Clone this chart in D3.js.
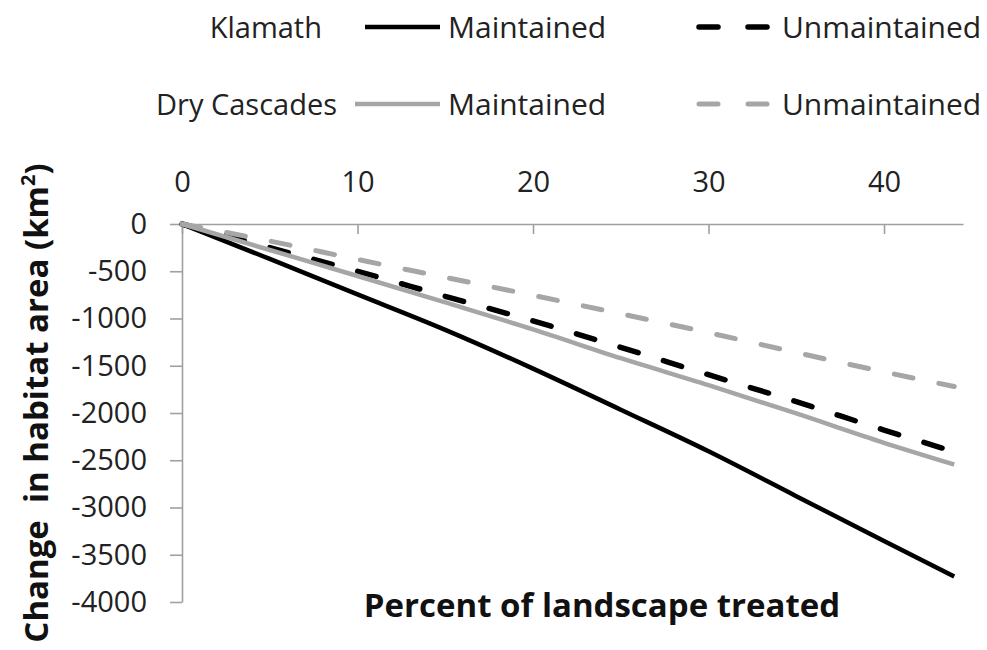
<!DOCTYPE html>
<html><head><meta charset="utf-8">
<script src="https://cdn.jsdelivr.net/npm/d3@7/dist/d3.min.js"></script>
<style>body{margin:0;background:#fff}svg{display:block}</style>
</head><body>
<svg id="chart" width="987" height="650"></svg>
<script>
const pct = [0, 5, 10, 15, 20, 25, 30, 35, 40, 44];
const klamathMaintained   = [0, -370, -745, -1120, -1530, -1965, -2405, -2880, -3355, -3730];
const klamathUnmaintained = [0, -250, -500, -765, -1025, -1305, -1595, -1880, -2180, -2410];
const dryMaintained       = [0, -275, -550, -830, -1115, -1420, -1705, -2005, -2315, -2545];
const dryUnmaintained     = [0, -180, -375, -565, -755, -950, -1150, -1360, -1565, -1720];
const xTicks = [0, 10, 20, 30, 40];
const yTicks = [0, -500, -1000, -1500, -2000, -2500, -3000, -3500, -4000];
const regions = ["Klamath", "Dry Cascades"];
const treatments = ["Maintained", "Unmaintained"];

const series = [
  {vals: klamathMaintained, color: "#000", dash: null, w: 4.5},
  {vals: klamathUnmaintained, color: "#000", dash: "19 26.5", w: 5.5},
  {vals: dryMaintained, color: "#a6a6a6", dash: null, w: 4.5},
  {vals: dryUnmaintained, color: "#a6a6a6", dash: "19 26.5", w: 5}
];

const svg = d3.select("#chart");
const font = "'Open Sans', sans-serif";
const x = d3.scaleLinear().domain([0, 44.5]).range([182, 963]);
const y = d3.scaleLinear().domain([-4000, 0]).range([602, 224]);
const axisColor = "#a0a0a0";
const plain = d => String(d);

// Top x axis
const gx = svg.append("g").attr("transform", `translate(0,${y(0)})`)
  .call(d3.axisTop(x).tickValues(xTicks).tickFormat(plain).tickSizeInner(-10).tickSizeOuter(0).tickPadding(32));
// Left y axis
const gy = svg.append("g").attr("transform", `translate(${x(0)},0)`)
  .call(d3.axisLeft(y).tickValues(yTicks).tickFormat(plain).tickSizeInner(12).tickSizeOuter(0).tickPadding(23));
[gx, gy].forEach(g => {
  g.selectAll("path.domain").attr("stroke", axisColor).attr("stroke-width", 1.6);
  g.selectAll(".tick line").attr("stroke", axisColor).attr("stroke-width", 1.6);
  g.selectAll(".tick text").attr("font-family", font).attr("font-size", 29).attr("fill", "#222");
});
gx.selectAll(".tick text").attr("dy", "0em");

// Lines
const line = d3.line().x((d, i) => x(pct[i])).y(d => y(d)).curve(d3.curveMonotoneX);
series.forEach(s => {
  svg.append("path").datum(s.vals).attr("d", line)
    .attr("fill", "none").attr("stroke", s.color).attr("stroke-width", s.w)
    .attr("stroke-linecap", s.dash ? "round" : "butt")
    .attr("stroke-dasharray", s.dash);
});

// Legend
const rowsY = [27, 104];
const labelEnd = [322, 337];
const lineStart = [365, 355];
regions.forEach((r, ri) => {
  const cy = rowsY[ri];
  svg.append("text").attr("x", labelEnd[ri]).attr("y", cy + 10.5).attr("text-anchor", "end")
    .attr("font-family", font).attr("font-size", 29).attr("fill", "#222").text(r);
  treatments.forEach((t, ti) => {
    const s = series[ri * 2 + ti];
    const x1 = ti === 0 ? lineStart[ri] : 699;
    const x2 = ti === 0 ? 440 : 768;
    svg.append("line").attr("x1", x1).attr("x2", x2).attr("y1", cy).attr("y2", cy)
      .attr("stroke", s.color).attr("stroke-width", s.w)
      .attr("stroke-linecap", s.dash ? "round" : "butt")
      .attr("stroke-dasharray", s.dash ? "19 30" : null);
    svg.append("text").attr("x", ti === 0 ? 448 : 782).attr("y", cy + 10.5)
      .attr("font-family", font).attr("font-size", 30).attr("fill", "#222").text(t);
  });
});

// Axis titles
svg.append("text").attr("x", 602).attr("y", 617).attr("text-anchor", "middle")
  .attr("font-family", font).attr("font-weight", "bold").attr("font-size", 33).attr("fill", "#111")
  .text("Percent of landscape treated");
const yt = svg.append("text").attr("transform", "translate(48,403) rotate(-90)")
  .attr("text-anchor", "middle").attr("font-family", font).attr("font-weight", "bold")
  .attr("font-size", 33).attr("fill", "#111").attr("xml:space", "preserve");
yt.append("tspan").text("Change  in habitat area (km");
yt.append("tspan").attr("font-size", 20).attr("dy", -13).text("2");
yt.append("tspan").attr("dy", 13).text(")");
</script>
</body></html>
